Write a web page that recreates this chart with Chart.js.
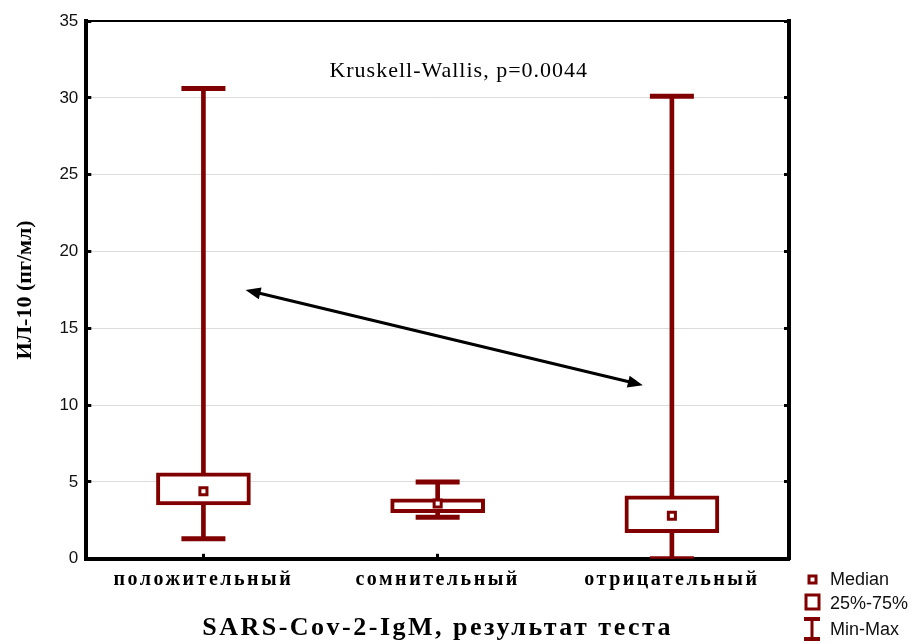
<!DOCTYPE html>
<html>
<head>
<meta charset="utf-8">
<script src="https://cdn.jsdelivr.net/npm/chart.js@4"></script>
<style>
  html, body { margin: 0; padding: 0; background: #fff; }
</style>
</head>
<body>
<canvas id="chart" width="919" height="644"></canvas>
<script>
// IL-10 by SARS-CoV-2 IgM result (box = 25%-75%, whiskers = min-max)
const categories = ['положительный', 'сомнительный', 'отрицательный'];
const minVals = [1.3, 2.7, 0];
const q1Vals = [3.5, 3.0, 1.7];
const medianVals = [4.4, 3.6, 2.8];
const q3Vals = [5.6, 3.9, 4.1];
const maxVals = [30.6, 5.0, 30.1];

const yMin = 0, yMax = 35, yStep = 5;
const testLabel = 'Kruskell-Wallis, p=0.0044';
const testPos = [1.09, 31.7];              // category index, value
const arrowFrom = [0.18, 17.5];
const arrowTo = [1.876, 11.3];
const legendItems = ['Median', '25%-75%', 'Min-Max'];

const MAROON = '#800000';
const serif = "'Liberation Serif', 'Times New Roman', serif";
const sans = "'Liberation Sans', Arial, sans-serif";

// wider tracking for the bold serif x labels, like the original
function spaced(fn, spacing) {
  return function() {
    const c = this.ctx;
    const old = c.letterSpacing;
    c.letterSpacing = spacing;
    fn.apply(this, arguments);
    c.letterSpacing = old;
  };
}

const extras = {
  id: 'extras',
  beforeDraw(chart) {
    const s = chart.scales.x;
    if (!s._spaced) {
      s.drawLabels = spaced(s.drawLabels, '2.5px');
      s.drawTitle = spaced(s.drawTitle, '2.5px');
      s._spaced = true;
    }
  },
  afterDatasetsDraw(chart) {
    const ctx = chart.ctx;
    const x = chart.scales.x, y = chart.scales.y;
    ctx.save();

    ctx.fillStyle = '#000';
    ctx.font = '22px ' + serif;
    ctx.letterSpacing = '1px';
    ctx.textAlign = 'center';
    ctx.textBaseline = 'middle';
    ctx.fillText(testLabel, x.getPixelForValue(testPos[0]), y.getPixelForValue(testPos[1]));
    ctx.letterSpacing = '0px';

    // double headed arrow
    const x1 = x.getPixelForValue(arrowFrom[0]), y1 = y.getPixelForValue(arrowFrom[1]);
    const x2 = x.getPixelForValue(arrowTo[0]), y2 = y.getPixelForValue(arrowTo[1]);
    const ang = Math.atan2(y2 - y1, x2 - x1);
    ctx.strokeStyle = '#000';
    ctx.lineWidth = 3;
    ctx.beginPath();
    ctx.moveTo(x1 + 8 * Math.cos(ang), y1 + 8 * Math.sin(ang));
    ctx.lineTo(x2 - 8 * Math.cos(ang), y2 - 8 * Math.sin(ang));
    ctx.stroke();
    const head = (px, py, a) => {
      ctx.beginPath();
      ctx.moveTo(px, py);
      ctx.lineTo(px - 15 * Math.cos(a) + 6 * Math.sin(a), py - 15 * Math.sin(a) - 6 * Math.cos(a));
      ctx.lineTo(px - 15 * Math.cos(a) - 6 * Math.sin(a), py - 15 * Math.sin(a) + 6 * Math.cos(a));
      ctx.closePath();
      ctx.fill();
    };
    head(x2, y2, ang);
    head(x1, y1, ang + Math.PI);
    ctx.restore();
  },
  afterDraw(chart) {
    // legend in the bottom right corner
    const ctx = chart.ctx;
    const lx = chart.chartArea.right + 23;
    ctx.save();
    ctx.strokeStyle = MAROON;
    ctx.fillStyle = '#fff';
    ctx.lineWidth = 3;
    ctx.strokeRect(lx - 3, 576, 7, 7);

    ctx.lineWidth = 3;
    ctx.strokeRect(lx - 6, 595, 13, 14);

    ctx.fillStyle = MAROON;
    ctx.fillRect(lx - 8, 617, 16, 4);
    ctx.fillRect(lx - 1.5, 617, 3, 22);
    ctx.fillRect(lx - 8, 637, 16, 4);

    ctx.fillStyle = '#111';
    ctx.font = '18px ' + sans;
    ctx.textAlign = 'left';
    ctx.textBaseline = 'middle';
    ctx.fillText(legendItems[0], lx + 18, 580);
    ctx.fillText(legendItems[1], lx + 18, 604);
    ctx.fillText(legendItems[2], lx + 18, 630);
    ctx.restore();
  }
};

new Chart(document.getElementById('chart'), {
  type: 'bar',
  data: {
    labels: categories,
    datasets: [
      {
        type: 'line', label: 'Median', data: medianVals, showLine: false,
        pointStyle: 'rect', pointRadius: 5, pointBorderWidth: 3,
        pointBorderColor: MAROON, pointBackgroundColor: '#fff', order: 0
      },
      {
        type: 'line', label: 'Max', data: maxVals, showLine: false,
        pointStyle: 'line', pointRadius: 22, pointBorderWidth: 5,
        pointBorderColor: MAROON, order: 1
      },
      {
        type: 'line', label: 'Min', data: minVals, showLine: false,
        pointStyle: 'line', pointRadius: 22, pointBorderWidth: 5,
        pointBorderColor: MAROON, order: 1
      },
      {
        label: '25%-75%',
        data: categories.map((c, i) => [q1Vals[i], q3Vals[i]]),
        backgroundColor: '#fff', borderColor: MAROON, borderWidth: 4,
        borderSkipped: false, barThickness: 94, grouped: false, order: 2
      },
      {
        label: 'Min-Max',
        data: categories.map((c, i) => [minVals[i], maxVals[i]]),
        backgroundColor: MAROON, borderWidth: 0,
        barThickness: 4, grouped: false, order: 3
      }
    ]
  },
  options: {
    responsive: false,
    animation: false,
    layout: { autoPadding: false, padding: { left: 12, right: 130, top: 21, bottom: 0 } },
    plugins: {
      legend: { display: false },
      title: { display: false },
      tooltip: { enabled: false }
    },
    scales: {
      x: {
        offset: true,
        z: 1,
        grid: { display: true, drawOnChartArea: false, offset: false, tickLength: -5, tickWidth: 3, tickColor: '#000' },
        border: { display: true, color: '#000', width: 4 },
        ticks: { color: '#000', font: { family: serif, size: 20, weight: 'bold' }, padding: 14 },
        title: {
          display: true, text: 'SARS-Cov-2-IgM, результат теста', color: '#000',
          font: { family: serif, size: 26, weight: 'bold' }, padding: { top: 7, bottom: 0 }
        }
      },
      xTop: {
        type: 'category', position: 'top', labels: categories, offset: true,
        grid: { display: false, drawTicks: false },
        border: { display: true, color: '#000', width: 2 },
        ticks: { display: false }
      },
      y: {
        min: yMin, max: yMax,
        ticks: { stepSize: yStep, color: '#111', font: { family: sans, size: 17 }, padding: 13 },
        grid: { color: '#dcdcdc', lineWidth: 1, tickLength: -5, tickWidth: 3, tickColor: '#000' },
        border: { display: true, color: '#000', width: 4 },
        title: {
          display: true, text: 'ИЛ-10 (пг/мл)', color: '#000',
          font: { family: serif, size: 22, weight: 'bold' }, padding: { top: 0, bottom: 8 }
        },
        afterFit(s) {
          s.paddingTop = 0;
          s.paddingBottom = 0;
        }
      },
      y2: {
        position: 'right', min: yMin, max: yMax,
        ticks: { stepSize: yStep, display: false },
        grid: { drawOnChartArea: false, tickLength: -5, tickWidth: 3, tickColor: '#000' },
        border: { display: true, color: '#000', width: 4 }
      }
    }
  },
  plugins: [extras]
});
</script>
</body>
</html>
